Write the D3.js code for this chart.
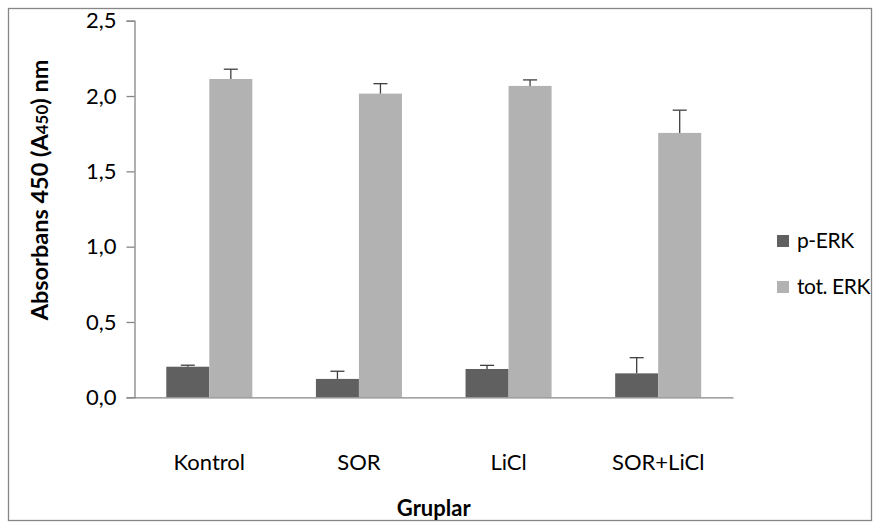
<!DOCTYPE html>
<html>
<head>
<meta charset="utf-8">
<script src="https://cdn.jsdelivr.net/npm/d3@7"></script>
<style>
  body { margin: 0; background: #fff; }
  svg { display: block; font-family: Lato, "Open Sans", sans-serif; }
</style>
</head>
<body>
<svg id="chart" width="879" height="527"></svg>
<script>
// Group names and series
const categories = ["Kontrol", "SOR", "LiCl", "SOR+LiCl"];
const seriesNames = ["p-ERK", "tot. ERK"];

// Mean absorbance values and their upper error bars
const pERK = [0.203, 0.122, 0.188, 0.159];
const pERKErr = [0.010, 0.051, 0.024, 0.104];
const totERK = [2.113, 2.016, 2.067, 1.755];
const totERKErr = [0.065, 0.066, 0.040, 0.151];

// Axis ticks
const yTicks = [0, 0.5, 1.0, 1.5, 2.0, 2.5];

const colors = ["#606060", "#b2b2b2"];
const axisColor = "#868686";
const fontFamily = "Lato, 'Open Sans', sans-serif";
const fontSize = 22;

const svg = d3.select("#chart");

// outer chart frame
svg.append("rect")
  .attr("x", 8.5).attr("y", 8.5)
  .attr("width", 863).attr("height", 512)
  .attr("fill", "none")
  .attr("stroke", axisColor)
  .attr("stroke-width", 1.3);

const plot = { left: 134.5, right: 733, top: 20.7, bottom: 397.3 };

const y = d3.scaleLinear().domain([0, 2.5]).range([plot.bottom, plot.top]);
const x = d3.scaleBand().domain(categories).range([plot.left, plot.right])
  .paddingInner(0.425).paddingOuter(0.2125);
const xs = d3.scaleBand().domain(seriesNames).range([0, x.bandwidth()]);

const series = [
  { name: seriesNames[0], values: pERK, errs: pERKErr, color: colors[0] },
  { name: seriesNames[1], values: totERK, errs: totERKErr, color: colors[1] }
];

// bars
const groups = svg.append("g").selectAll("g")
  .data(categories)
  .join("g")
  .attr("transform", d => `translate(${x(d)},0)`);

groups.selectAll("rect")
  .data((c, i) => series.map(s => ({ s, v: s.values[i], e: s.errs[i] })))
  .join("rect")
  .attr("x", d => xs(d.s.name))
  .attr("width", xs.bandwidth())
  .attr("y", d => y(d.v))
  .attr("height", d => y(0) - y(d.v))
  .attr("fill", d => d.s.color);

// upper error bars
const eb = groups.selectAll("g.err")
  .data((c, i) => series.map(s => ({ s, v: s.values[i], e: s.errs[i] })))
  .join("g")
  .attr("class", "err")
  .attr("transform", d => `translate(${xs(d.s.name) + xs.bandwidth() / 2},0)`);

eb.append("line")
  .attr("x1", 0).attr("x2", 0)
  .attr("y1", d => y(d.v)).attr("y2", d => y(d.v + d.e))
  .attr("stroke", "#3f3f3f").attr("stroke-width", 1.3);
eb.append("line")
  .attr("x1", -7).attr("x2", 7)
  .attr("y1", d => y(d.v + d.e)).attr("y2", d => y(d.v + d.e))
  .attr("stroke", "#3f3f3f").attr("stroke-width", 1.3);

// y axis
const fmt = v => d3.format(".1f")(v).replace(".", ",");
const yAxis = svg.append("g")
  .attr("transform", `translate(${plot.left},0)`)
  .call(d3.axisLeft(y).tickValues(yTicks).tickFormat(fmt).tickSize(8).tickPadding(10));
yAxis.select(".domain").attr("stroke", axisColor).attr("stroke-width", 1.3);
yAxis.selectAll(".tick line").attr("stroke", axisColor).attr("stroke-width", 1.3);
yAxis.selectAll(".tick text")
  .attr("fill", "#000").attr("font-size", fontSize).attr("font-family", fontFamily);

// x axis
const xAxis = svg.append("g")
  .attr("transform", `translate(0,${plot.bottom})`)
  .call(d3.axisBottom(x).tickSize(0).tickPadding(57));
xAxis.select(".domain").attr("stroke", axisColor).attr("stroke-width", 1.3);
xAxis.selectAll(".tick text")
  .attr("fill", "#000").attr("font-size", fontSize).attr("font-family", fontFamily);

// axis titles
svg.append("text")
  .attr("x", (plot.left + plot.right) / 2)
  .attr("y", 516)
  .attr("text-anchor", "middle")
  .attr("font-size", fontSize)
  .attr("font-weight", "bold")
  .text("Gruplar");

const yTitle = svg.append("text")
  .attr("transform", "translate(48,190) rotate(-90)")
  .attr("text-anchor", "middle")
  .attr("font-size", 23.5)
  .attr("font-weight", "bold");
yTitle.append("tspan").text("Absorbans 450 (A");
yTitle.append("tspan").attr("font-size", 23.5 * 0.72).text("450");
yTitle.append("tspan").text(") nm");

// legend
const legend = svg.append("g").attr("transform", "translate(777,0)");
const li = legend.selectAll("g").data(series).join("g")
  .attr("transform", (d, i) => `translate(0,${241 + i * 46})`);
li.append("rect").attr("x", 0).attr("y", -6).attr("width", 12).attr("height", 12)
  .attr("fill", d => d.color);
li.append("text").attr("x", 20).attr("y", 0).attr("dy", "0.35em")
  .attr("font-size", 21).attr("letter-spacing", -0.4).text(d => d.name);
</script>
</body>
</html>
